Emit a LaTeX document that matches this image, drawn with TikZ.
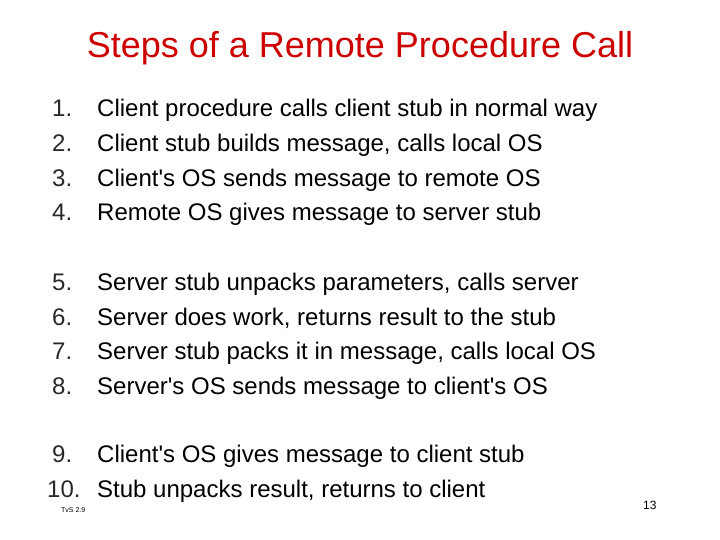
\documentclass[tikz,border=0pt]{standalone}
\usepackage{fontspec}
\setmainfont[Ligatures=NoCommon,Mapping={}]{Liberation Sans}
\begin{document}
\begin{tikzpicture}[x=1pt,y=-1pt,
  item/.style={anchor=base west,inner sep=0pt,font=\fontsize{24}{26}\selectfont}]
\useasboundingbox (0,0) rectangle (720,540);
\node[anchor=base,inner sep=0pt,text={rgb,255:red,204;green,0;blue,0},font=\fontsize{36}{40}\selectfont] (title) at (360,58) {Steps of a Remote Procedure Call};
\foreach \n/\y/\t in {1./117/Client procedure calls client stub in normal way,
  2./152/{Client stub builds message, calls local OS},
  3./187/Client\textquotesingle s OS sends message to remote OS,
  4./221/Remote OS gives message to server stub,
  5./290/{Server stub unpacks parameters, calls server},
  6./325/{Server does work, returns result to the stub},
  7./359/{Server stub packs it in message, calls local OS},
  8./394/Server\textquotesingle s OS sends message to client\textquotesingle s OS,
  9./462/Client\textquotesingle s OS gives message to client stub,
  10./497/{Stub unpacks result, returns to client}}{
  \node[item,text={rgb,255:red,40;green,40;blue,40}] (n\n) at (\ifnum\pdfstrcmp{\n}{10.}=0 47\else 52\fi,\y) {\n};
  \node[item] (t\n) at (97,\y) {\t};
}
\node[anchor=base west,inner sep=0pt,font=\fontsize{7}{8}\selectfont] (tvs) at (61,512) {TvS 2.9};
\node[anchor=base west,inner sep=0pt,font=\fontsize{12}{14}\selectfont] (pg) at (643,509) {13};
\end{tikzpicture}
\end{document}
